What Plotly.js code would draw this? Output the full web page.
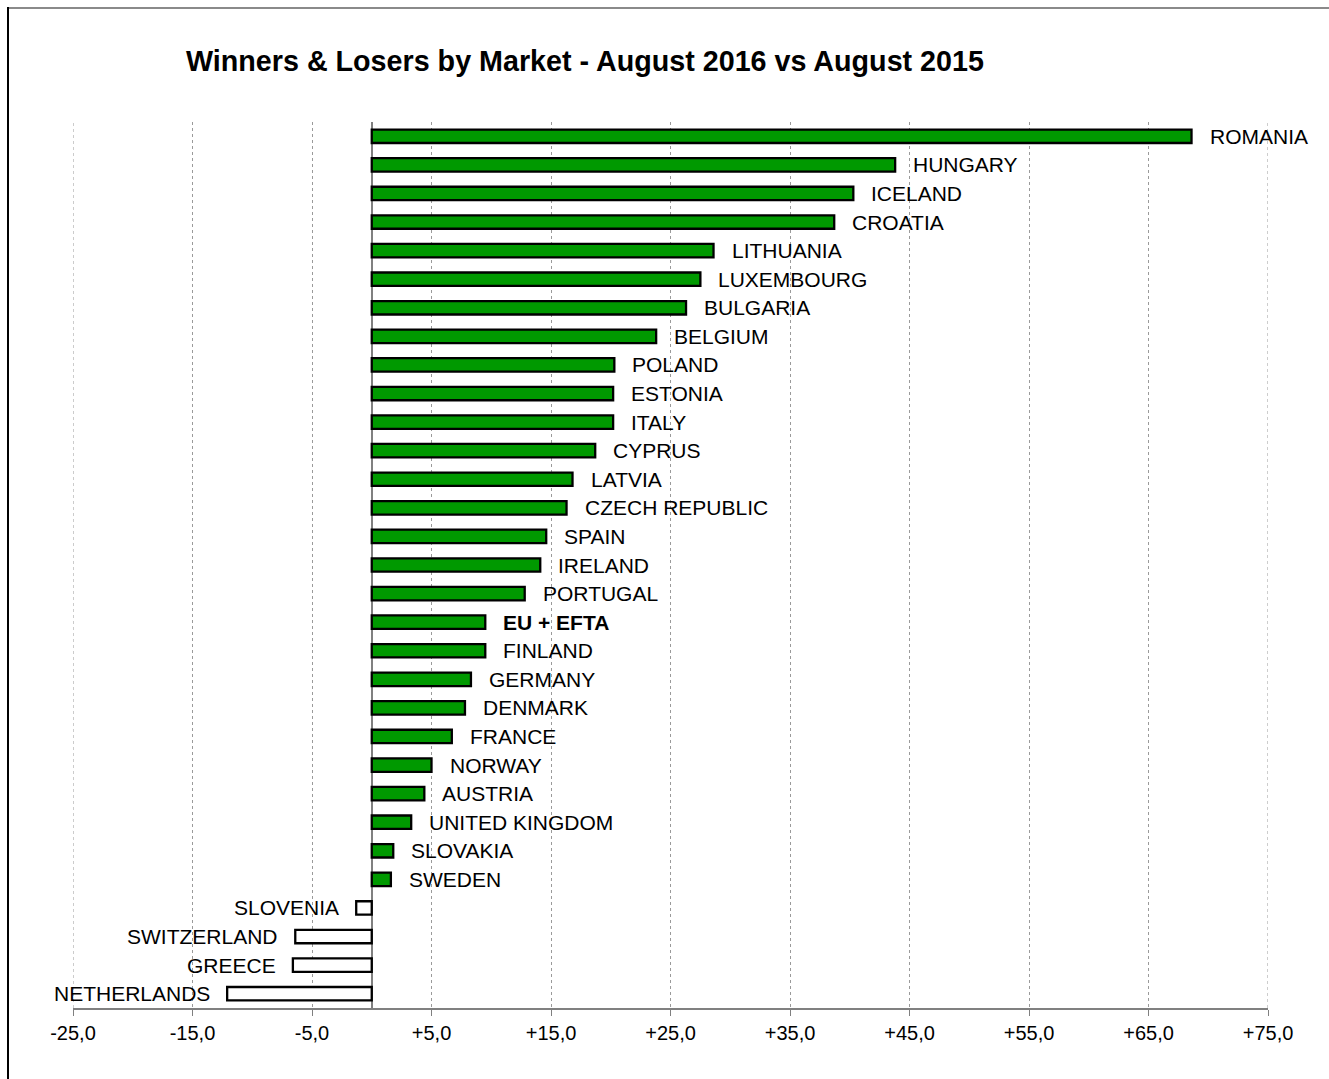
<!DOCTYPE html>
<html>
<head>
<meta charset="utf-8">
<script src="https://cdn.plot.ly/plotly-3.0.1.min.js"></script>
<style>
  html, body { margin: 0; padding: 0; background: #fff; }
  #wrap { position: relative; width: 1329px; height: 1079px; }
  #chart { position: absolute; left: 0; top: 0; width: 1329px; height: 1079px; }
  #frameTop { position: absolute; left: 8px; top: 7px; width: 1321px; height: 0; border-top: 2px solid #8a8a8a; }
  #frameLeft { position: absolute; left: 7px; top: 7px; width: 0; height: 1072px; border-left: 2px solid #000; }
</style>
</head>
<body>
<div id="wrap">
  <div id="chart"></div>
  <div id="frameTop"></div>
  <div id="frameLeft"></div>
</div>
<script>
// Markets, ordered top to bottom
const markets = [
  "ROMANIA", "HUNGARY", "ICELAND", "CROATIA", "LITHUANIA", "LUXEMBOURG",
  "BULGARIA", "BELGIUM", "POLAND", "ESTONIA", "ITALY", "CYPRUS", "LATVIA",
  "CZECH REPUBLIC", "SPAIN", "IRELAND", "PORTUGAL", "EU + EFTA", "FINLAND",
  "GERMANY", "DENMARK", "FRANCE", "NORWAY", "AUSTRIA", "UNITED KINGDOM",
  "SLOVAKIA", "SWEDEN", "SLOVENIA", "SWITZERLAND", "GREECE", "NETHERLANDS"
];
// % change August 2016 vs August 2015
const changes = [
  68.6, 43.8, 40.3, 38.7, 28.6, 27.5,
  26.3, 23.8, 20.3, 20.2, 20.2, 18.7, 16.8,
  16.3, 14.6, 14.1, 12.8, 9.5, 9.5,
  8.3, 7.8, 6.7, 5.0, 4.4, 3.3,
  1.8, 1.6, -1.3, -6.4, -6.6, -12.1
];
const totalLabel = "EU + EFTA";
const tickValues = [-25, -15, -5, 5, 15, 25, 35, 45, 55, 65, 75];
const tickLabels = ["-25,0", "-15,0", "-5,0", "+5,0", "+15,0", "+25,0", "+35,0", "+45,0", "+55,0", "+65,0", "+75,0"];

const FONT = '"Liberation Sans", Arial, sans-serif';

const trace = {
  type: 'bar',
  orientation: 'h',
  x: changes,
  y: markets,
  marker: {
    color: changes.map(v => v >= 0 ? '#009900' : '#ffffff'),
    line: { color: '#000000', width: 2.3 }
  },
  hoverinfo: 'x+y'
};

const annotations = markets.map((m, i) => {
  const v = changes[i];
  const pos = v >= 0;
  return {
    x: v, y: m, xref: 'x', yref: 'y',
    text: m === totalLabel ? '<b>' + m + '</b>' : m,
    showarrow: false,
    xanchor: pos ? 'left' : 'right',
    yanchor: 'middle',
    xshift: pos ? 16 : -15,
    font: { family: FONT, size: 21, color: '#000' }
  };
});

// dotted gridlines at the two range ends (Plotly hides edge gridlines)
const edgeGrid = [tickValues[0], tickValues[tickValues.length - 1]].map(t => ({
  type: 'line', xref: 'x', yref: 'paper', x0: t, x1: t, y0: 0, y1: 1,
  line: { color: '#9a9a9a', width: 1, dash: 'dot' }, layer: 'below'
}));

const layout = {
  width: 1329,
  height: 1079,
  margin: { l: 73, r: 61, t: 122, b: 71 },
  paper_bgcolor: '#ffffff',
  plot_bgcolor: '#ffffff',
  showlegend: false,
  bargap: 0.53,
  title: {
    text: '<b>Winners &amp; Losers by Market - August 2016 vs August 2015</b>',
    font: { family: FONT, size: 28.7, color: '#000' },
    x: 186 / 1329, xref: 'container', xanchor: 'left',
    y: 1 - 61 / 1079, yref: 'container', yanchor: 'middle'
  },
  xaxis: {
    range: [-25, 75],
    tickvals: tickValues,
    ticktext: tickLabels,
    tickfont: { family: FONT, size: 20, color: '#000' },
    ticks: 'outside',
    ticklen: 6,
    tickcolor: '#808080',
    tickwidth: 1,
    showline: true,
    linecolor: '#808080',
    linewidth: 2,
    showgrid: true,
    gridcolor: '#9a9a9a',
    griddash: 'dot',
    gridwidth: 1,
    zeroline: true,
    zerolinecolor: '#808080',
    zerolinewidth: 2,
    fixedrange: true
  },
  yaxis: {
    type: 'category',
    autorange: 'reversed',
    showticklabels: false,
    showgrid: false,
    zeroline: false,
    showline: false,
    ticks: '',
    fixedrange: true
  },
  shapes: edgeGrid,
  annotations: annotations
};

Plotly.newPlot('chart', [trace], layout, { displayModeBar: false, staticPlot: true });
</script>
</body>
</html>
